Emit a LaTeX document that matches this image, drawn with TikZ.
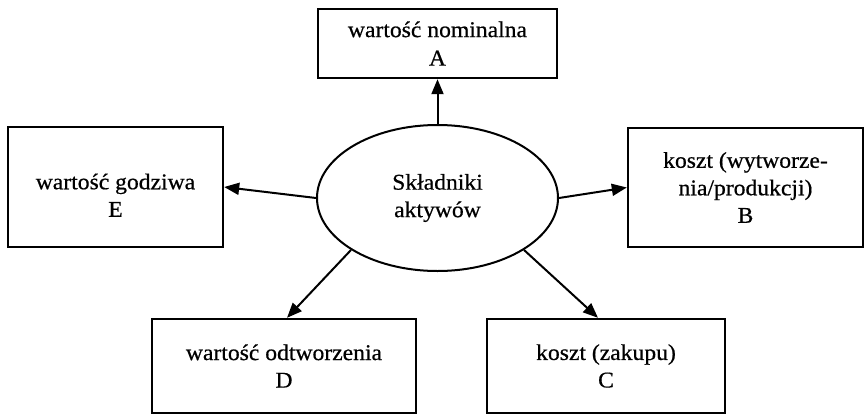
\documentclass[tikz,border=0pt]{standalone}
\usepackage{fontspec}
\setmainfont{Liberation Serif}[FakeStretch=1.05,FakeBold=0.6]
\usetikzlibrary{arrows.meta,shapes.geometric}
\begin{document}
\begin{tikzpicture}[x=1pt,y=-1pt,
  box/.style={draw, line width=2.4pt, rectangle, align=center, inner sep=0pt,
    font=\fontsize{22.5}{27.5}\selectfont},
  hub/.style={draw, line width=2pt, ellipse, align=center, inner sep=0pt,
    minimum width=241pt, minimum height=146pt, font=\fontsize{22.5}{27.5}\selectfont},
  conn/.style={line width=2pt, -{Triangle[length=15pt,width=12pt]}}
]
\useasboundingbox (0,0) rectangle (865,415);
\node[hub] (S) at (437.5,198) {Składniki\\aktywów};
\node[box, minimum width=239pt, minimum height=69pt] (A) at (437.5,43.5) {wartość nominalna\\[1pt]A};
\node[box, minimum width=215pt, minimum height=120pt] (E) at (115.5,187) {\rule{0pt}{32pt}wartość godziwa\\E};
\node[box, minimum width=235pt, minimum height=119pt] (B) at (745.5,187.5) {koszt (wytworze-\\nia/produkcji)\\B};
\node[box, minimum width=264pt, minimum height=94pt] (D) at (284,366) {wartość odtworzenia\\D};
\node[box, minimum width=238pt, minimum height=94pt] (C) at (606,366) {koszt (zakupu)\\C};
\draw[conn] (S.north) -- (A.south);
\draw[conn] (S.west) -- (E.east);
\draw[conn] (S.east) -- (B.west);
\draw[conn] (S.211.5) -- ([xshift=3pt]D.north);
\draw[conn] (S.329.4) -- ([xshift=-8pt]C.north);
\end{tikzpicture}
\end{document}
